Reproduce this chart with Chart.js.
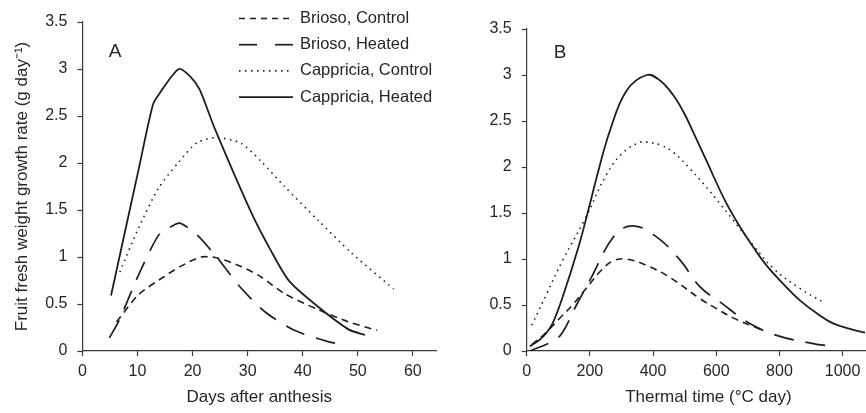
<!DOCTYPE html>
<html>
<head>
<meta charset="utf-8">
<script src="https://cdn.jsdelivr.net/npm/chart.js@4.4.1/dist/chart.umd.min.js"></script>
<style>
  html, body { margin: 0; padding: 0; background: #fff; overflow: hidden; }
  #wrap { position: relative; width: 866px; height: 413px; overflow: hidden; }
  canvas { position: absolute; top: 0; }
  #chartA { left: 0; }
  #chartB { left: 440px; }
</style>
</head>
<body>
<div id="wrap">
  <canvas id="chartA" width="450" height="413"></canvas>
  <canvas id="chartB" width="450" height="413"></canvas>
</div>
<script>
// Values
var seriesLabels = ['Brioso, Control', 'Brioso, Heated', 'Cappricia, Control', 'Cappricia, Heated'];

// Panel A - days after anthesis
var aBriosoCtrlX = [6.2, 10.2, 14.8, 17.8, 21.5, 24.5, 28.8, 32.4, 36.7, 42.8, 48.3, 53.5];
var aBriosoCtrlY = [0.31, 0.60, 0.79, 0.90, 1.00, 0.99, 0.90, 0.79, 0.61, 0.44, 0.31, 0.22];
var aBriosoHeatX = [4.9, 6.7, 10.2, 13.8, 16.0, 17.7, 20.9, 24.5, 28.8, 33.3, 38.5, 44.6, 48.0];
var aBriosoHeatY = [0.14, 0.33, 0.81, 1.23, 1.32, 1.36, 1.23, 0.99, 0.67, 0.41, 0.22, 0.10, 0.06];
var aCappCtrlX = [6.8, 9.9, 13.8, 17.5, 20.9, 24.5, 28.8, 32.4, 36.7, 42.8, 48.9, 56.5];
var aCappCtrlY = [0.84, 1.27, 1.73, 2.01, 2.22, 2.27, 2.21, 2.02, 1.75, 1.39, 1.04, 0.66];
var aCappHeatX = [5.2, 10.2, 12.8, 14.0, 17.5, 19.6, 21.3, 24.0, 30.6, 34.3, 37.6, 42.8, 48.3, 51.3];
var aCappHeatY = [0.59, 1.93, 2.62, 2.74, 3.00, 2.92, 2.78, 2.37, 1.48, 1.06, 0.74, 0.47, 0.23, 0.17];

// Panel B - thermal time
var bBriosoCtrlX = [16, 58, 103, 145, 188, 237, 274, 316, 380, 453, 548, 601, 654, 707, 745];
var bBriosoCtrlY = [0.07, 0.19, 0.35, 0.50, 0.68, 0.88, 0.98, 1.00, 0.93, 0.80, 0.57, 0.46, 0.36, 0.28, 0.23];
var bBriosoHeatX = [10, 79, 111, 153, 200, 279, 337, 411, 485, 548, 617, 701, 791, 907, 946];
var bBriosoHeatY = [0.00, 0.10, 0.19, 0.47, 0.77, 1.26, 1.36, 1.24, 0.99, 0.70, 0.52, 0.31, 0.17, 0.08, 0.06];
var bCappCtrlX = [16, 63, 116, 184, 253, 306, 359, 380, 422, 464, 517, 559, 612, 654, 717, 780, 865, 939];
var bCappCtrlY = [0.28, 0.62, 1.00, 1.43, 1.92, 2.16, 2.27, 2.27, 2.24, 2.16, 1.98, 1.82, 1.60, 1.42, 1.15, 0.90, 0.68, 0.53];
var bCappHeatX = [10, 40, 61, 82, 114, 163, 195, 227, 264, 316, 380, 422, 464, 496, 527, 570, 627, 675, 717, 759, 812, 865, 918, 970, 1023, 1071];
var bCappHeatY = [0.05, 0.12, 0.19, 0.30, 0.59, 1.12, 1.53, 1.96, 2.40, 2.83, 3.00, 2.94, 2.78, 2.60, 2.38, 2.06, 1.64, 1.35, 1.13, 0.93, 0.73, 0.55, 0.41, 0.30, 0.24, 0.20];

// line styles per series
var lineColor = '#1e1e1e';
var textColor = '#262626';
var axisColor = '#3a3a3a';
var fontFamily = '"Liberation Sans", Arial, Helvetica, sans-serif';
var lineDash = [[7, 5], [20, 12], [1.5, 4.5], []];
var legendDash = [[6, 5], [18, 18], [1.5, 4.5], []];
var lineWidth = [1.6, 1.7, 1.6, 1.8];

function toPoints(xs, ys) {
  return xs.map(function(x, i) { return { x: x, y: ys[i] }; });
}

function makeDatasets(xsList, ysList, tension) {
  return seriesLabels.map(function(label, i) {
    return {
      label: label,
      data: toPoints(xsList[i], ysList[i]),
      borderColor: lineColor,
      borderWidth: lineWidth[i],
      borderDash: lineDash[i],
      borderCapStyle: 'butt',
      pointRadius: 0,
      fill: false,
      tension: tension
    };
  });
}

function xAxis(max, step, title) {
  return {
    type: 'linear',
    min: 0,
    max: max,
    border: { color: axisColor, width: 1.2 },
    grid: { drawOnChartArea: false, drawTicks: true, tickLength: 5, color: axisColor, tickWidth: 1.2 },
    ticks: {
      stepSize: step,
      includeBounds: false,
      autoSkip: false,
      maxRotation: 0,
      padding: 6,
      color: textColor,
      font: { family: fontFamily, size: 16 },
      callback: function(v) { return String(v); }
    },
    title: {
      display: true,
      text: title,
      color: textColor,
      font: { family: fontFamily, size: 17 },
      padding: { top: 0, bottom: 5 }
    },
    afterFit: function(scale) { scale.height = 62; }
  };
}

function yAxis(width, title) {
  return {
    type: 'linear',
    min: 0,
    max: 3.5,
    border: { color: axisColor, width: 1.2 },
    grid: { drawOnChartArea: false, drawTicks: true, tickLength: 5, color: axisColor, tickWidth: 1.2 },
    ticks: {
      stepSize: 0.5,
      padding: 10,
      color: textColor,
      font: { family: fontFamily, size: 16 },
      callback: function(v) { return String(v); }
    },
    title: {
      display: !!title,
      text: title || '',
      color: textColor,
      font: { family: fontFamily, size: 17 },
      padding: { top: 12, bottom: 0 }
    },
    afterFit: function(scale) { scale.width = width; }
  };
}

// panel letter (A / B)
var panelLetter = {
  id: 'panelLetter',
  afterDraw: function(chart, args, opts) {
    var c = chart.ctx;
    c.save();
    c.font = '19px ' + fontFamily;
    c.fillStyle = textColor;
    c.textAlign = 'center';
    c.textBaseline = 'middle';
    c.fillText(opts.text, opts.x, opts.y);
    c.restore();
  }
};

// legend drawn in the top right of panel A
var sideLegend = {
  id: 'sideLegend',
  afterDraw: function(chart) {
    var c = chart.ctx;
    c.save();
    c.font = '16.5px ' + fontFamily;
    c.fillStyle = textColor;
    c.strokeStyle = lineColor;
    c.textBaseline = 'middle';
    chart.data.datasets.forEach(function(ds, i) {
      var y = 18.5 + i * 26.2;
      c.beginPath();
      c.setLineDash(legendDash[i]);
      c.lineWidth = lineWidth[i];
      c.moveTo(239, y);
      c.lineTo(293, y);
      c.stroke();
      c.setLineDash([]);
      c.fillText(ds.label, 300, y);
    });
    c.restore();
  }
};

var ctxA = document.getElementById('chartA').getContext('2d');
var chartA = new Chart(ctxA, {
  type: 'line',
  data: {
    datasets: makeDatasets(
      [aBriosoCtrlX, aBriosoHeatX, aCappCtrlX, aCappHeatX],
      [aBriosoCtrlY, aBriosoHeatY, aCappCtrlY, aCappHeatY],
      0.25)
  },
  options: {
    responsive: false,
    animation: false,
    layout: { padding: { left: 0, right: 14, top: 22, bottom: 0 } },
    scales: {
      x: xAxis(64.2, 10, 'Days after anthesis'),
      y: yAxis(82.4, 'Fruit fresh weight growth rate (g day\u207B\u00B9)')
    },
    plugins: {
      legend: { display: false },
      tooltip: { enabled: false },
      panelLetter: { text: 'A', x: 115, y: 52 }
    }
  },
  plugins: [panelLetter, sideLegend]
});

var ctxB = document.getElementById('chartB').getContext('2d');
var chartB = new Chart(ctxB, {
  type: 'line',
  data: {
    datasets: makeDatasets(
      [bBriosoCtrlX, bBriosoHeatX, bCappCtrlX, bCappHeatX],
      [bBriosoCtrlY, bBriosoHeatY, bCappCtrlY, bCappHeatY],
      0.4)
  },
  options: {
    responsive: false,
    animation: false,
    layout: { padding: { left: 0, right: 0, top: 29, bottom: 0 } },
    scales: {
      x: xAxis(1150, 200, 'Thermal time (\u00B0C day)'),
      y: yAxis(86.7, '')
    },
    plugins: {
      legend: { display: false },
      tooltip: { enabled: false },
      panelLetter: { text: 'B', x: 120, y: 53 }
    }
  },
  plugins: [panelLetter]
});
</script>
</body>
</html>
